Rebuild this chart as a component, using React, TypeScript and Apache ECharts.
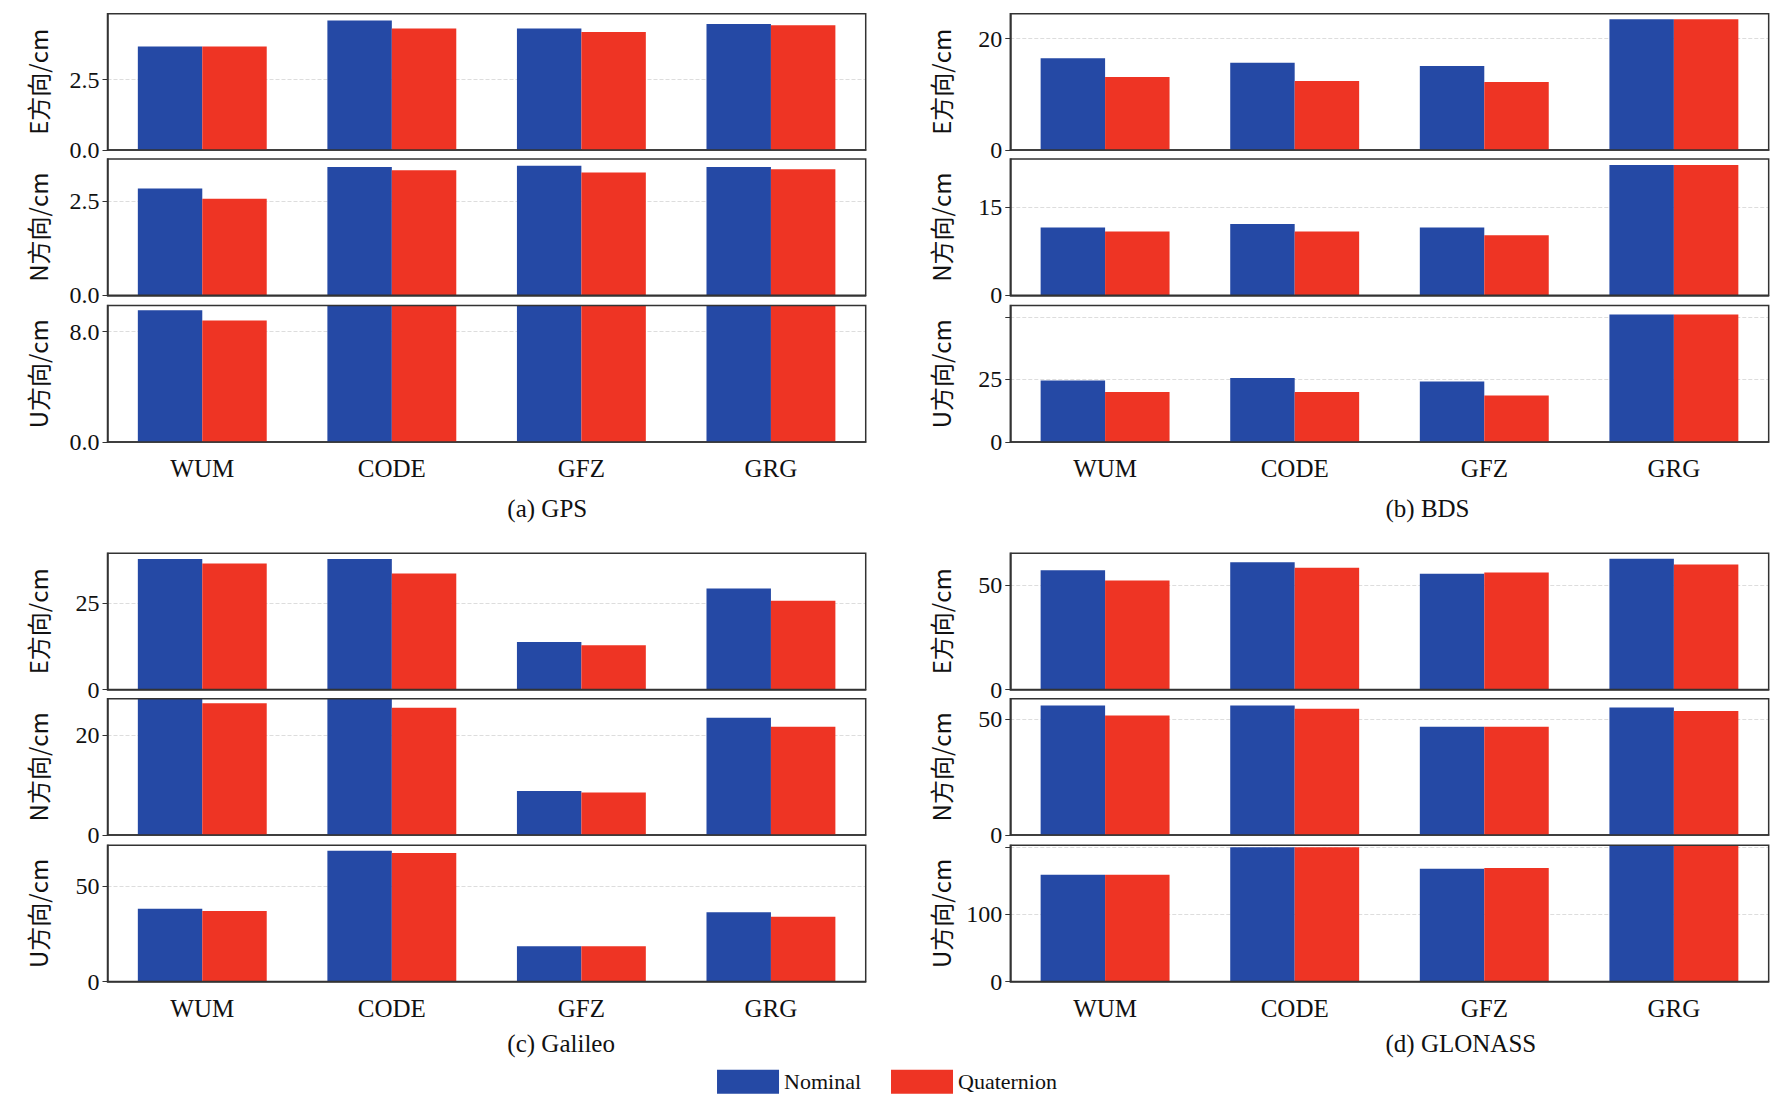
import { useEffect, useRef } from 'react'
import * as echarts from 'echarts'

const centers = ['WUM', 'CODE', 'GFZ', 'GRG']
const rowNames = ['E方向/cm', 'N方向/cm', 'U方向/cm']
const captions = ['(a) GPS', '(b) BDS', '(c) Galileo', '(d) GLONASS']

// [panel][row] values per centre
const nominal = [
  [[3.67, 4.6, 4.31, 4.47], [2.83, 3.4, 3.43, 3.4], [9.57, 12, 12, 12]],
  [[16.5, 15.7, 15.1, 23.5], [11.5, 12.1, 11.5, 22.1], [24.5, 25.5, 24.1, 50.9]],
  [[37.8, 37.8, 13.8, 29.3], [30, 30, 8.8, 23.4], [38.1, 68.5, 18.5, 36.3]],
  [[57.1, 60.9, 55.4, 62.5], [55.8, 55.8, 46.6, 54.9], [159, 200, 168, 210]],
]
const quaternion = [
  [[3.67, 4.31, 4.19, 4.43], [2.56, 3.31, 3.25, 3.34], [8.82, 12, 12, 12]],
  [[13.1, 12.4, 12.2, 23.5], [10.8, 10.8, 10.2, 22.1], [20, 20, 18.6, 50.9]],
  [[36.5, 33.6, 12.8, 25.7], [26.3, 25.4, 8.5, 21.6], [36.9, 67.3, 18.5, 33.9]],
  [[52.2, 58.2, 56, 59.8], [51.5, 54.4, 46.6, 53.4], [159, 200, 169, 210]],
]
const yMax = [[4.84, 3.61, 9.9], [24.5, 23.1, 54.5], [39.5, 27.2, 71.4], [65.2, 58.7, 203]]
const yInterval = [[2.5, 2.5, 8], [20, 15, 25], [25, 20, 50], [50, 50, 100]]
const decimals = [1, 0, 0, 0]

const SERIF = '"Liberation Serif", "Times New Roman", serif'
const CJK = '"Noto Sans CJK SC", "Liberation Serif", serif'

export default function App() {
  const ref = useRef<HTMLDivElement>(null)

  useEffect(() => {
    if (!ref.current) return
    const chart = echarts.init(ref.current, null, { renderer: 'svg' })

    const lefts = [6.06, 56.95]
    const rights = [51.2, 0.3]
    const tops = [[1.24, 14.43, 27.73], [50.2, 63.4, 76.7]]
    const h = 12.37

    const grid: any[] = []
    const xAxis: any[] = []
    const yAxis: any[] = []
    const series: any[] = []

    for (let p = 0; p < 4; p++) {
      const col = p % 2
      const band = Math.floor(p / 2)
      for (let r = 0; r < 3; r++) {
        const idx = grid.length
        const max = yMax[p][r]
        grid.push({
          left: lefts[col] + '%', right: rights[col] + '%', top: tops[band][r] + '%', height: h + '%',
          show: true, borderColor: '#333', borderWidth: 1.5, backgroundColor: 'transparent', z: 5,
        })
        xAxis.push({
          type: 'category', gridIndex: idx, data: centers,
          axisLine: { show: true, lineStyle: { color: '#333', width: 1.5 } }, axisTick: { show: false },
          axisLabel: { show: r === 2, color: '#111', fontSize: 25, fontFamily: SERIF, margin: 14 },
        })
        yAxis.push({
          type: 'value', gridIndex: idx, min: 0, max, interval: yInterval[p][r],
          name: rowNames[r], nameLocation: 'middle', nameGap: 58,
          nameTextStyle: { fontSize: 24, fontFamily: CJK, color: '#111' },
          axisLine: { show: true, lineStyle: { color: '#333', width: 1.5 } },
          axisTick: { show: true, length: 5, lineStyle: { color: '#333' } },
          axisLabel: {
            color: '#111', fontSize: 24, fontFamily: SERIF,
            showMaxLabel: false,
            formatter: (v: number) => (v > max * 0.9 ? '' : v.toFixed(decimals[p])),
          },
          splitLine: { showMinLine: false, showMaxLine: false, lineStyle: { color: '#ddd', type: 'dashed' } },
        })
        series.push({
          name: 'Nominal', type: 'bar', xAxisIndex: idx, yAxisIndex: idx,
          data: nominal[p][r], itemStyle: { color: '#2549a5' },
          barGap: '0%', barCategoryGap: '32%',
        })
        series.push({
          name: 'Quaternion', type: 'bar', xAxisIndex: idx, yAxisIndex: idx,
          data: quaternion[p][r], itemStyle: { color: '#ee3424' },
          barGap: '0%', barCategoryGap: '32%',
        })
      }
    }

    const captionTop = ['45%', '45%', '93.6%', '93.6%']
    const captionLeft = ['28.6%', '78.1%', '28.6%', '78.1%']
    const graphic = captions.map((c, i) => ({
      type: 'text', left: captionLeft[i], top: captionTop[i],
      style: { text: c, fontSize: 25, fontFamily: SERIF, fill: '#111', textAlign: 'center' },
    }))

    chart.setOption({
      animation: false,
      backgroundColor: '#fff',
      grid, xAxis, yAxis, series, graphic,
      legend: {
        data: ['Nominal', 'Quaternion'], bottom: '0.3%', left: 'center',
        icon: 'rect', itemWidth: 62, itemHeight: 24, itemGap: 30,
        textStyle: { fontSize: 22, fontFamily: SERIF, color: '#111' },
      },
    })
    return () => chart.dispose()
  }, [])

  return <div ref={ref} style={{ position: 'fixed', left: 0, top: 0, width: '100vw', height: '100vh' }} />
}
